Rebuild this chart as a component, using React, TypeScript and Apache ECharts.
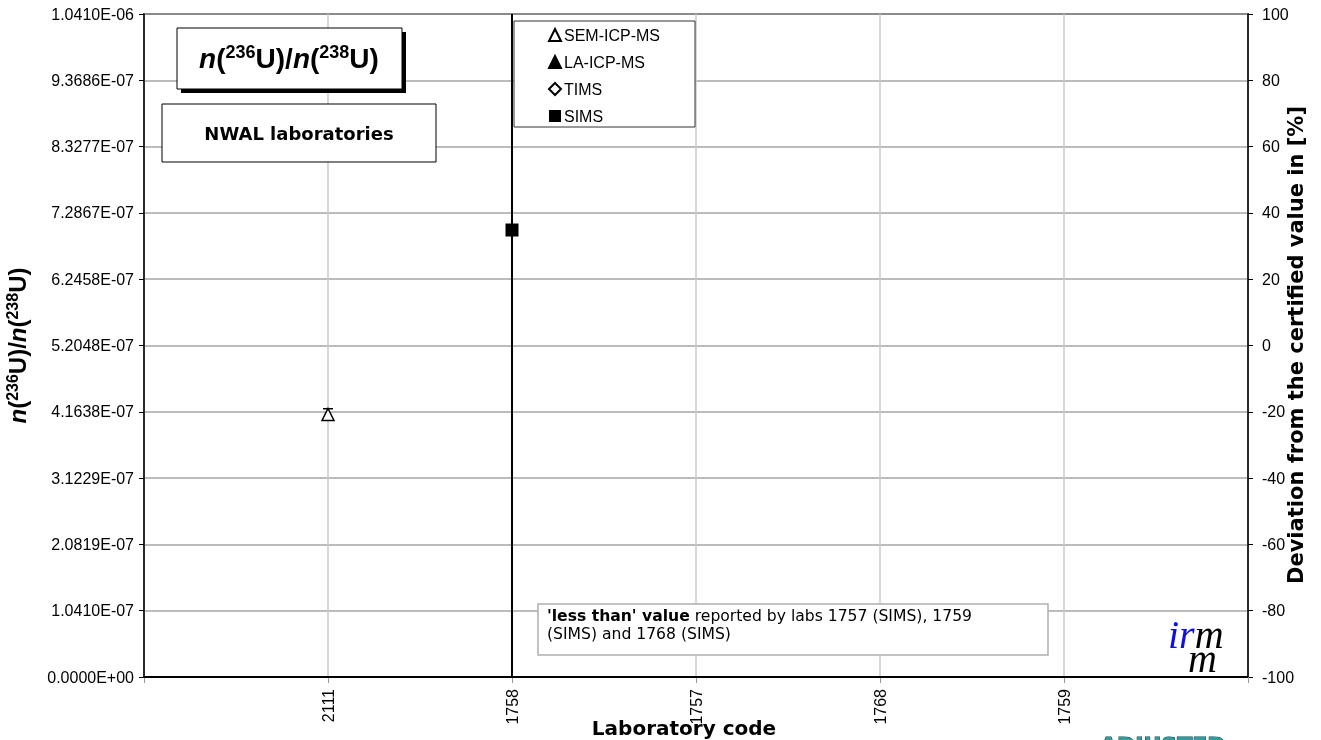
import React, { useEffect, useRef } from "react";
import * as echarts from "echarts";

// ---- data ----
const labCodes = ["2111", "1758", "1757", "1768", "1759"];
const certifiedValue = 5.2048e-7;
const deviationTicks = [-100, 100];

const semIcpMsLabs = ["2111"];
const semIcpMsValues = [4.122e-7];
const semIcpMsUnc = [9e-9];

const laIcpMsLabs: string[] = [];
const laIcpMsValues: number[] = [];

const timsLabs: string[] = [];
const timsValues: number[] = [];

const simsLabs = ["1758"];
const simsValues = [7.018e-7];
const simsUnc = [7.6e-7];

const noteBold = "'less than' value";
const noteText1 = " reported by labs 1757 (SIMS), 1759";
const noteText2 = "(SIMS) and 1768 (SIMS)";
const rightAxisTitle = "Deviation from the certified value in [%]";

function labIndex(code: string) {
  return labCodes.indexOf(code) + 1;
}
function pts(labs: string[], vals: number[]) {
  return labs.map((l, i) => [labIndex(l), vals[i]]);
}
function errPts(labs: string[], vals: number[], unc: number[]) {
  return labs.map((l, i) => [labIndex(l), vals[i], unc[i]]);
}
function sci(v: number) {
  if (Math.abs(v) < 1e-20) return "0.0000E+00";
  const s = v.toExponential(4);
  const [m, e] = s.split("e");
  const n = parseInt(e, 10);
  return m + "E" + (n < 0 ? "-" : "+") + String(Math.abs(n)).padStart(2, "0");
}

export default function App() {
  const ref = useRef<HTMLDivElement>(null);
  useEffect(() => {
    document.body.style.margin = "0";
    document.documentElement.style.overflow = "hidden";
    document.body.style.overflow = "hidden";
    const chart = echarts.init(ref.current!, null, { renderer: "svg" });
    const yStep = certifiedValue / 5;
    const yMax = certifiedValue * 2;

    const errRender = (lw: number) => (params: any, api: any) => {
      const x = api.value(0);
      const v = api.value(1);
      const u = api.value(2);
      const cs = params.coordSys;
      const top = api.coord([x, v + u]);
      const bot = api.coord([x, v - u]);
      const yMin = cs.y;
      const yMaxPx = cs.y + cs.height;
      const t = Math.max(top[1], yMin);
      const b = Math.min(bot[1], yMaxPx);
      const st = { stroke: "#000", lineWidth: lw };
      const children: any[] = [
        { type: "line", shape: { x1: top[0], y1: t, x2: top[0], y2: b }, style: st },
      ];
      if (top[1] >= yMin)
        children.push({ type: "line", shape: { x1: top[0] - 5, y1: top[1], x2: top[0] + 5, y2: top[1] }, style: st });
      if (bot[1] <= yMaxPx)
        children.push({ type: "line", shape: { x1: bot[0] - 5, y1: bot[1], x2: bot[0] + 5, y2: bot[1] }, style: st });
      return { type: "group", children };
    };

    const richAxis = {
      n: { fontStyle: "italic", fontWeight: "bold", fontSize: 24, fontFamily: "Arial", color: "#000" },
      b: { fontWeight: "bold", fontSize: 24, fontFamily: "Arial", color: "#000" },
      s: { fontWeight: "bold", fontSize: 16, fontFamily: "Arial", color: "#000", padding: [0, 0, 10, 0] },
    };
    const richTitle = {
      n: { fontStyle: "italic", fontWeight: "bold", fontSize: 28, fontFamily: "Arial", color: "#000" },
      b: { fontWeight: "bold", fontSize: 28, fontFamily: "Arial", color: "#000" },
      s: { fontWeight: "bold", fontSize: 18, fontFamily: "Arial", color: "#000", padding: [0, 0, 12, 0] },
    };
    const ratioText = "{n|n}{b|(}{s|236}{b|U)/}{n|n}{b|(}{s|238}{b|U)}";

    chart.setOption({
      animation: false,
      grid: {
        left: 144,
        top: 14,
        right: 73,
        bottom: 63,
        show: true,
        borderColor: "#000",
        borderWidth: 1.5,
        backgroundColor: "#fff",
        outerBoundsMode: "none",
        containLabel: false,
      },
      legend: {
        orient: "vertical",
        left: 548,
        top: 27,
        padding: 0,
        itemWidth: 12,
        itemHeight: 12,
        itemGap: 11,
        z: 10,
        data: ["SEM-ICP-MS", "LA-ICP-MS", "TIMS", "SIMS"],
        textStyle: { fontSize: 16, fontFamily: "Arial", color: "#000", lineHeight: 16, padding: [0, 0, 0, -2] },
      },
      xAxis: {
        type: "value",
        min: 0,
        max: labCodes.length + 1,
        interval: 1,
        axisLine: { show: true, lineStyle: { color: "#000", width: 1.5 } },
        axisTick: { show: true, length: 6, lineStyle: { color: "#999" } },
        axisLabel: {
          rotate: 90,
          margin: 12,
          fontSize: 16,
          fontFamily: "Arial",
          color: "#000",
          formatter: (v: number) => (v >= 1 && v <= labCodes.length ? labCodes[Math.round(v) - 1] : ""),
        },
        splitLine: { show: true, lineStyle: { color: "#c8c8c8", width: 1.5 } },
      },
      yAxis: [
        {
          type: "value",
          min: 0,
          max: yMax,
          interval: yStep,
          position: "left",
          axisLine: { show: true, lineStyle: { color: "#000", width: 1.5 } },
          axisTick: { show: true, length: 5, lineStyle: { color: "#000" } },
          axisLabel: { fontSize: 16, fontFamily: "Arial", color: "#000", margin: 10, formatter: (v: number) => sci(v) },
          splitLine: { show: true, lineStyle: { color: "#a6a6a6", width: 1.5 } },
          name: ratioText,
          nameLocation: "middle",
          nameRotate: 90,
          nameGap: 114,
          nameTextStyle: { rich: richAxis },
        },
        {
          type: "value",
          min: deviationTicks[0],
          max: deviationTicks[1],
          interval: 20,
          position: "right",
          axisLine: { show: true, lineStyle: { color: "#000", width: 1.5 } },
          axisTick: { show: true, length: 5, lineStyle: { color: "#000" } },
          axisLabel: { fontSize: 16, fontFamily: "Arial", color: "#000", margin: 14 },
          splitLine: { show: false },
        },
      ],
      series: [
        {
          type: "custom",
          name: "err-sem",
          z: 3,
          silent: true,
          renderItem: errRender(1.5),
          encode: { x: 0, y: 1 },
          data: errPts(semIcpMsLabs, semIcpMsValues, semIcpMsUnc),
        },
        {
          type: "custom",
          name: "err-sims",
          z: 3,
          silent: true,
          renderItem: errRender(2),
          encode: { x: 0, y: 1 },
          data: errPts(simsLabs, simsValues, simsUnc),
          markLine: {
            silent: true,
            symbol: "none",
            label: { show: false },
            lineStyle: { color: "#000", width: 2, type: "solid" },
            data: [{ yAxis: certifiedValue }],
          },
        },
        {
          type: "scatter",
          name: "SEM-ICP-MS",
          symbol: "triangle",
          symbolSize: 12,
          z: 4,
          itemStyle: { color: "#fff", borderColor: "#000", borderWidth: 1.5, opacity: 1 },
          data: pts(semIcpMsLabs, semIcpMsValues),
        },
        {
          type: "scatter",
          name: "LA-ICP-MS",
          symbol: "triangle",
          symbolSize: 12,
          z: 4,
          itemStyle: { color: "#000", borderColor: "#000", borderWidth: 1, opacity: 1 },
          data: pts(laIcpMsLabs, laIcpMsValues),
        },
        {
          type: "scatter",
          name: "TIMS",
          symbol: "diamond",
          symbolSize: 12,
          z: 4,
          itemStyle: { color: "#fff", borderColor: "#000", borderWidth: 1.5, opacity: 1 },
          data: pts(timsLabs, timsValues),
        },
        {
          type: "scatter",
          name: "SIMS",
          symbol: "rect",
          symbolSize: 13,
          z: 4,
          itemStyle: { color: "#000", opacity: 1 },
          data: pts(simsLabs, simsValues),
        },
      ],
      graphic: [
        // title box with shadow
        { type: "rect", z: 5, shape: { x: 181, y: 32, width: 225, height: 61 }, style: { fill: "#000" } },
        { type: "rect", z: 6, shape: { x: 177, y: 28, width: 225, height: 61 }, style: { fill: "#fff", stroke: "#000", lineWidth: 1 } },
        {
          type: "text",
          z: 7,
          x: 289,
          y: 58,
          style: { text: ratioText, rich: richTitle, align: "center", verticalAlign: "middle" },
        },
        // NWAL box
        { type: "rect", z: 6, shape: { x: 162, y: 104, width: 274, height: 58 }, style: { fill: "#fff", stroke: "#000", lineWidth: 1 } },
        {
          type: "text",
          z: 7,
          x: 299,
          y: 133,
          style: {
            text: "NWAL laboratories",
            fontSize: 18,
            fontWeight: "bold",
            fontFamily: "DejaVu Sans",
            fill: "#000",
            align: "center",
            verticalAlign: "middle",
          },
        },
        // legend box
        { type: "rect", z: 6, shape: { x: 514, y: 21, width: 181, height: 106 }, style: { fill: "#fff", stroke: "#333", lineWidth: 1 } },
        // note box
        { type: "rect", z: 6, shape: { x: 538, y: 604, width: 510, height: 51 }, style: { fill: "#fff", stroke: "#b0b0b0", lineWidth: 1.5 } },
        {
          type: "text",
          z: 7,
          x: 547,
          y: 607,
          style: {
            text: "{b|" + noteBold + "}{r|" + noteText1 + "}\n{r|" + noteText2 + "}",
            rich: {
              b: { fontSize: 15.6, fontWeight: "bold", fontFamily: "DejaVu Sans", fill: "#000", lineHeight: 18 },
              r: { fontSize: 15.6, fontFamily: "DejaVu Sans", fill: "#000", lineHeight: 18 },
            },
            align: "left",
            verticalAlign: "top",
          },
        },
        // right axis title
        {
          type: "text",
          z: 7,
          x: 1296,
          y: 345,
          rotation: Math.PI / 2,
          style: {
            text: rightAxisTitle,
            fontSize: 21,
            fontWeight: "bold",
            fontFamily: "DejaVu Sans",
            fill: "#000",
            align: "center",
            verticalAlign: "middle",
          },
        },
        // irm logo
        {
          type: "text",
          z: 7,
          x: 1168,
          y: 650,
          style: {
            text: "{i|ir}{m|m}",
            rich: {
              i: { fontSize: 40, fontStyle: "italic", fontFamily: "Liberation Serif", fill: "#1010e0", lineHeight: 32 },
              m: { fontSize: 40, fontStyle: "italic", fontFamily: "Liberation Serif", fill: "#000", lineHeight: 32 },
            },
            verticalAlign: "bottom",
          },
        },
        {
          type: "text",
          z: 7,
          x: 1188,
          y: 669,
          style: { text: "m", fontSize: 40, lineHeight: 22, fontStyle: "italic", fontFamily: "Liberation Serif", fill: "#000", verticalAlign: "bottom" },
        },
        // x axis title
        {
          type: "text",
          z: 7,
          x: 684,
          y: 728,
          style: {
            text: "Laboratory code",
            fontSize: 20,
            fontWeight: "bold",
            fontFamily: "DejaVu Sans",
            fill: "#000",
            align: "center",
            verticalAlign: "middle",
          },
        },
        // cut-off watermark
        {
          type: "text",
          z: 7,
          x: 1100,
          y: 734,
          style: {
            text: "ADJUSTED",
            fontSize: 22,
            fontWeight: "bold",
            fontFamily: "DejaVu Sans",
            fill: "#3a9a9a",
            stroke: "#0b3b3b",
            lineWidth: 1,
            verticalAlign: "top",
          },
        },
      ],
    });
    return () => chart.dispose();
  }, []);
  return <div ref={ref} style={{ width: 1321, height: 740, position: "fixed", left: 0, top: 0 }} />;
}
